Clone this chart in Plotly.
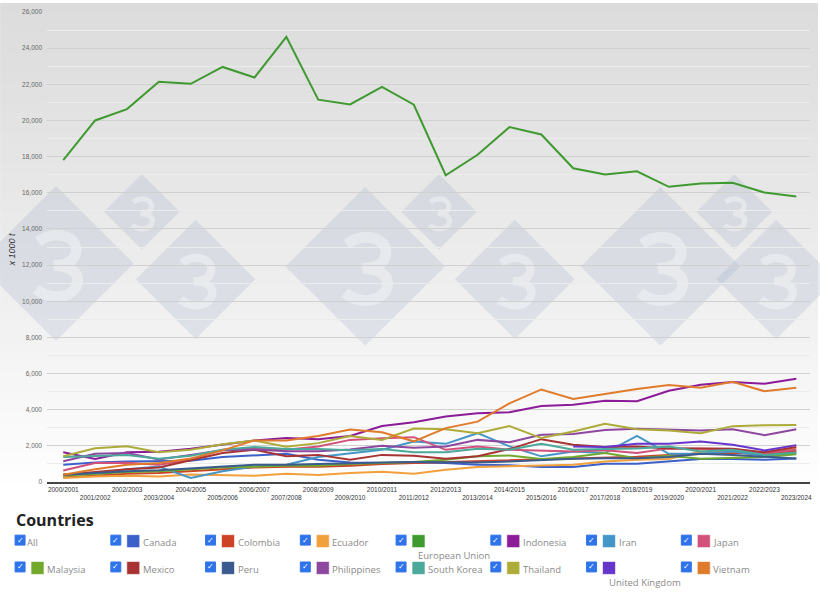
import plotly.graph_objects as go

# ---------------- data ----------------
seasons = ["2000/2001", "2001/2002", "2002/2003", "2003/2004", "2004/2005", "2005/2006",
           "2006/2007", "2007/2008", "2008/2009", "2009/2010", "2010/2011", "2011/2012",
           "2012/2013", "2013/2014", "2014/2015", "2015/2016", "2016/2017", "2017/2018",
           "2018/2019", "2019/2020", "2020/2021", "2021/2022", "2022/2023", "2023/2024"]

canada = [950, 1080, 1140, 1140, 1180, 1380, 1450, 1560, 1230, 1080, 1050, 1080,
          1050, 950, 920, 830, 830, 1010, 1010, 1120, 1270, 1270, 1230, 1300]
colombia = [250, 350, 450, 500, 600, 700, 800, 850, 850, 900, 1000, 1050,
            1100, 1150, 1200, 1250, 1300, 1350, 1400, 1500, 1550, 1600, 1550, 1700]
ecuador = [220, 310, 350, 310, 420, 400, 350, 460, 390, 500, 570, 460,
           680, 830, 860, 900, 950, 1140, 1230, 1270, 1690, 1690, 1600, 1850]
european_union = [17800, 20000, 20630, 22140, 22030, 22960, 22375, 24630, 21150, 20890, 21860, 20870,
                  16970, 18100, 19630, 19225, 17355, 17005, 17190, 16330, 16510, 16550, 16015, 15795]
indonesia = [1640, 1270, 1640, 1670, 1840, 2060, 2300, 2440, 2370, 2550, 3100, 3300,
             3620, 3800, 3860, 4210, 4280, 4500, 4470, 5050, 5380, 5530, 5440, 5710]
iran = [400, 450, 700, 860, 220, 590, 860, 950, 1380, 1600, 1780, 2240,
        2110, 2700, 1970, 1420, 1690, 1600, 2550, 1560, 1560, 1690, 1450, 1600]
japan = [640, 1050, 1060, 950, 1230, 1780, 1870, 1780, 1970, 2330, 2420, 2480,
         1780, 1970, 1780, 1750, 1690, 1750, 1600, 1860, 1840, 1820, 1600, 1780]
malaysia = [350, 450, 550, 600, 700, 800, 850, 900, 900, 1000, 1050, 1100,
            1230, 1420, 1470, 1270, 1380, 1600, 1320, 1450, 1290, 1320, 1380, 1540]
mexico = [400, 550, 700, 800, 1200, 1600, 1780, 1420, 1500, 1230, 1500, 1450,
          1290, 1420, 1820, 2370, 2060, 1930, 1970, 1860, 1860, 1840, 1640, 1930]
peru = [400, 500, 600, 650, 750, 850, 950, 950, 1000, 1050, 1080, 1100,
        1080, 1080, 1140, 1230, 1290, 1320, 1320, 1380, 1560, 1500, 1420, 1300]
philippines = [1150, 1560, 1600, 1250, 1500, 1750, 1800, 1700, 1700, 1800, 2000, 1900,
               1970, 2330, 2200, 2610, 2660, 2880, 2940, 2880, 2850, 2920, 2590, 2920]
south_korea = [1380, 1450, 1490, 1290, 1450, 1780, 1930, 1820, 1820, 1750, 1820, 1640,
               1640, 1840, 1780, 2110, 1780, 1820, 1860, 1970, 1690, 1780, 1500, 1630]
thailand = [1420, 1870, 1980, 1650, 1780, 2090, 2300, 1950, 2150, 2550, 2330, 2960,
            2920, 2700, 3090, 2430, 2790, 3220, 2920, 2850, 2700, 3090, 3140, 3160]
united_kingdom = [None] * 16 + [1970, 1930, 2110, 2110, 2240, 2060, 1750, 2040]
vietnam = [400, 700, 950, 1050, 1300, 1750, 2300, 2300, 2550, 2900, 2750, 2250,
           2980, 3340, 4350, 5120, 4590, 4870, 5140, 5360, 5220, 5550, 5020, 5220]

y_ticks = [0, 2000, 4000, 6000, 8000, 10000, 12000, 14000, 16000, 18000, 20000,
           22000, 24000, 26000]

series = [
    ("Canada", canada, "#3c60c9"),
    ("Colombia", colombia, "#cc4326"),
    ("Ecuador", ecuador, "#f2a03c"),
    ("European Union", european_union, "#3f9a30"),
    ("Indonesia", indonesia, "#8c1b98"),
    ("Iran", iran, "#4596c8"),
    ("Japan", japan, "#d2507a"),
    ("Malaysia", malaysia, "#72a92c"),
    ("Mexico", mexico, "#a83333"),
    ("Peru", peru, "#3a5b8d"),
    ("Philippines", philippines, "#8e479f"),
    ("South Korea", south_korea, "#4ba99b"),
    ("Thailand", thailand, "#adac38"),
    ("United Kingdom", united_kingdom, "#6635cc"),
    ("Vietnam", vietnam, "#e07b2c"),
]

# ---------------- layout geometry (pixels) ----------------
W, H = 820, 597
L, R, T, B = 47, 812, 9, 482
PW, PH = R - L, B - T


def px(x):
    return (x - L) / PW


def py(y):
    return (B - y) / PH


fig = go.Figure()
xs = list(range(len(seasons)))
for name, vals, col in series:
    fig.add_trace(go.Scatter(x=xs, y=vals, mode="lines", name=name,
                             line=dict(color=col, width=2), connectgaps=False,
                             showlegend=False))

shapes = []
annotations = []

# gradient background
n_bands = 48
for i in range(n_bands):
    y0 = i * B / n_bands
    y1 = (i + 1) * B / n_bands + 0.6
    t = (i + 0.5) / n_bands
    c = int(round(220 + (254 - 220) * (t ** 1.15)))
    shapes.append(dict(type="rect", xref="paper", yref="paper",
                       x0=px(0), x1=px(W), y0=py(y1), y1=py(y0),
                       fillcolor=f"rgb({c},{c},{c})", line=dict(width=0), layer="below"))


# watermark diamonds with a "3" glyph drawn as a stroke path
def diamond(cx, cy, h):
    pts = [(cx, cy - h), (cx + h, cy), (cx, cy + h), (cx - h, cy)]
    d = "M " + " L ".join(f"{px(a):.5f},{py(b):.5f}" for a, b in pts) + " Z"
    return dict(type="path", xref="paper", yref="paper", path=d,
                fillcolor="rgba(150,168,196,0.22)", line=dict(width=0), layer="below")


def three(cx, cy, s):
    def P(a, b):
        return f"{px(cx + a * s):.5f},{py(cy + b * s):.5f}"
    d = (f"M {P(-0.27, -0.36)} C {P(0.0, -0.56)} {P(0.36, -0.44)} {P(0.3, -0.18)} "
         f"C {P(0.26, -0.03)} {P(0.08, 0.0)} {P(-0.04, 0.0)} "
         f"M {P(-0.04, 0.0)} C {P(0.14, 0.0)} {P(0.38, 0.08)} {P(0.32, 0.28)} "
         f"C {P(0.26, 0.5)} {P(-0.08, 0.54)} {P(-0.3, 0.36)}")
    return dict(type="path", xref="paper", yref="paper", path=d,
                line=dict(color="rgba(255,255,255,0.35)", width=max(4, s * 0.16)),
                layer="below")


wm = [(56, 262, 78), (142, 210, 38), (196, 278, 60),
      (366, 265, 80), (440, 210, 38), (516, 278, 60),
      (662, 265, 80), (736, 210, 38), (778, 278, 60)]
for cx, cy, h in wm:
    shapes.append(diamond(cx, cy, h))
    shapes.append(three(cx, cy + 2, h * 0.85))

# y-axis title
annotations.append(dict(x=px(12), y=py(248), xref="paper", yref="paper", text="<i>x 1000 t</i>",
                        showarrow=False, textangle=-90,
                        font=dict(family="Liberation Sans", size=9, color="#333"),
                        xanchor="center", yanchor="middle"))

# legend block
annotations.append(dict(x=px(14), y=py(520), xref="paper", yref="paper", text="<b>Countries</b>",
                        showarrow=False, font=dict(family="Open Sans", size=16, color="#222"),
                        xanchor="left", yanchor="middle"))

cols = [15, 111, 206, 301, 397, 492, 588, 683]
rows = [540.5, 567.5]
legend_items = [("All", None)] + [(n, c) for n, _, c in series]
lab_font = dict(family="Open Sans", size=9.5, color="#8a8a8a")


def checkbox(x, yc):
    shapes.append(dict(type="rect", xref="paper", yref="paper",
                       x0=px(x), x1=px(x + 10), y0=py(yc + 5), y1=py(yc - 5),
                       fillcolor="#2f73ea", line=dict(color="#2f73ea", width=1)))
    annotations.append(dict(x=px(x + 5), y=py(yc), xref="paper", yref="paper", text="<b>✓</b>",
                            showarrow=False, font=dict(family="DejaVu Sans", size=8, color="white"),
                            xanchor="center", yanchor="middle"))


for k, (name, col) in enumerate(legend_items):
    r, c = divmod(k, 8)
    x = cols[c]
    yc = rows[r]
    checkbox(x, yc)
    if col is None:
        annotations.append(dict(x=px(x + 10), y=py(yc + 2), xref="paper", yref="paper", text=name,
                                showarrow=False, font=lab_font, xanchor="left", yanchor="middle"))
        continue
    shapes.append(dict(type="rect", xref="paper", yref="paper",
                       x0=px(x + 16), x1=px(x + 29), y0=py(yc + 7.5), y1=py(yc - 5.5),
                       fillcolor=col, line=dict(color="rgba(255,255,255,0.6)", width=1)))
    if name in ("European Union", "United Kingdom"):
        annotations.append(dict(x=px(x + 20), y=py(yc + 15.5), xref="paper", yref="paper",
                                text=name, showarrow=False, font=lab_font,
                                xanchor="left", yanchor="middle"))
    else:
        annotations.append(dict(x=px(x + 30), y=py(yc + 2.5), xref="paper", yref="paper",
                                text=name, showarrow=False, font=lab_font,
                                xanchor="left", yanchor="middle"))

ticktext = [s if i % 2 == 0 else "<br>" + s for i, s in enumerate(seasons)]

fig.update_layout(
    width=W, height=H,
    margin=dict(l=L, r=W - R, t=T, b=H - B, pad=0),
    paper_bgcolor="white",
    plot_bgcolor="rgba(0,0,0,0)",
    shapes=shapes,
    annotations=annotations,
    showlegend=False,
    xaxis=dict(range=[-0.51, 23.43], tickmode="array", tickvals=xs, ticktext=ticktext,
               tickangle=0,
               tickfont=dict(family="Liberation Sans", size=6.5, color="#333"),
               showgrid=False, zeroline=False, showline=True, linecolor="#444", linewidth=1.5,
               ticks="", fixedrange=True),
    yaxis=dict(range=[0, 26000], tickmode="array", tickvals=y_ticks,
               ticktext=[f"{v:,}" for v in y_ticks],
               tickfont=dict(family="Liberation Sans", size=6.5, color="#666"),
               showgrid=True, gridcolor="#d0d0d0", gridwidth=1, zeroline=False,
               minor=dict(dtick=1000, tick0=0, showgrid=True, gridcolor="#ececec", gridwidth=1),
               ticks="", ticklabelstandoff=4, fixedrange=True),
)

fig.write_html("out.html")
